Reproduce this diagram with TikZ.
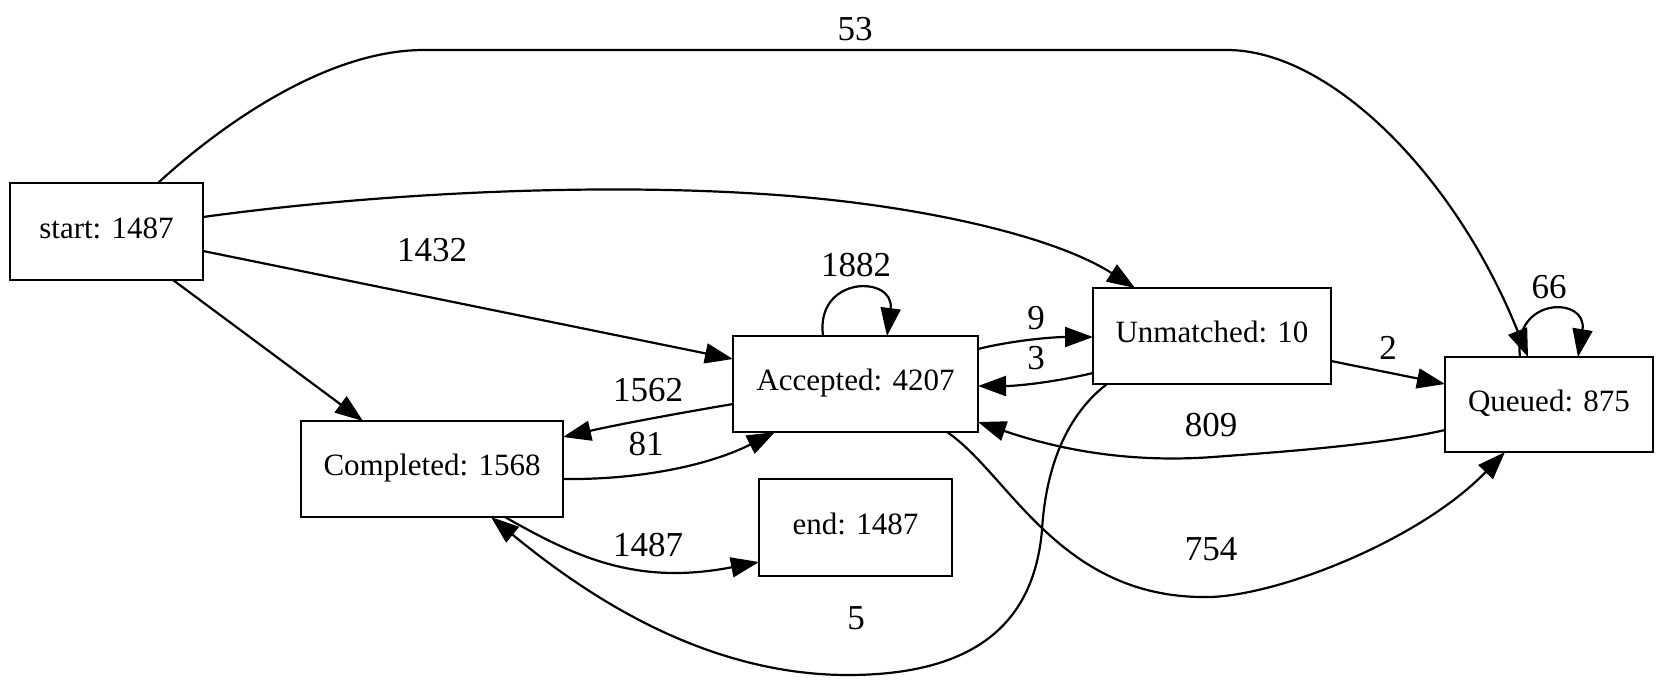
\documentclass[tikz,border=0pt]{standalone}
\usepackage{fontspec}
\setmainfont{Liberation Serif}
\usetikzlibrary{arrows.meta,calc}
\begin{document}
\begin{tikzpicture}[x=0.5pt,y=-0.5pt,
  box/.style={draw,line width=1.1pt,rectangle,inner sep=0pt,outer sep=0pt,font=\fontsize{15.5}{18}\selectfont,text height=0.66em,text depth=0pt},
  lbl/.style={inner sep=0pt,font=\fontsize{17.5}{20}\selectfont},
  conn/.style={line width=1.1pt,-{Triangle[length=14pt,width=10pt]}},
]
\useasboundingbox (0,0) rectangle (1664,686);
% nodes
\node[box,minimum width=96.5pt,minimum height=48.5pt] (start) at (106.5,231.5) {start: 1487};
\node[box,minimum width=131pt,minimum height=48pt] (Completed) at (432,469) {Completed: 1568};
\node[box,minimum width=122.5pt,minimum height=48pt] (Accepted) at (855.5,384) {Accepted: 4207};
\node[box,minimum width=96.5pt,minimum height=48.5pt] (end) at (855.5,527.5) {end: 1487};
\node[box,minimum width=119pt,minimum height=48pt] (Unmatched) at (1212,336) {Unmatched: 10};
\node[box,minimum width=104pt,minimum height=47.5pt] (Queued) at (1549,404.5) {Queued: 875};
% edges
\draw[conn] ($(start.east)+(0,-14.5)$) .. controls (400,190) and (650,180) .. (832,200) .. controls (950,213) and (1060,240) .. ($(Unmatched.north)+(-77,0)$);
\draw[conn] ($(start.east)+(0,19.5)$) -- ($(Accepted.west)+(0,-25)$);
\draw[conn] ($(start.south)+(66.5,0)$) -- ($(Completed.north)+(-69,0)$);
\draw[conn] ($(start.north)+(51.5,0)$) .. controls (210,135) and (320,50) .. (424,50) -- (1227,50) .. controls (1330,50) and (1455,175) .. ($(Queued.north)+(-21,0)$);
\draw[conn] ($(Accepted.north)+(-32.5,0)$) .. controls (815,275) and (895,275) .. ($(Accepted.north)+(31.5,0)$);
\draw[conn] ($(Queued.north)+(-29,0)$) .. controls (1512,296) and (1588,296) .. ($(Queued.north)+(29,0)$);
\draw[conn] ($(Accepted.east)+(0,-35)$) .. controls (1010,341) and (1050,337) .. ($(Unmatched.west)+(0,1)$);
\draw[conn] ($(Unmatched.west)+(0,37)$) .. controls (1060,381) and (1020,386) .. ($(Accepted.east)+(0,2)$);
\draw[conn] ($(Unmatched.east)+(0,25)$) -- ($(Queued.west)+(0,-20.5)$);
\draw[conn] ($(Accepted.west)+(0,20)$) .. controls (680,413) and (620,424) .. ($(Completed.east)+(0,-32)$);
\draw[conn] ($(Completed.east)+(0,10)$) .. controls (640,480) and (710,465) .. ($(Accepted.south)+(-80.5,0)$);
\draw[conn] ($(Completed.south)+(73,0)$) .. controls (580,560) and (640,585) .. ($(end.west)+(0,34.5)$);
\draw[conn] ($(Unmatched.south)+(-105,0)$) .. controls (1060,420) and (1045,480) .. (1042,530) .. controls (1035,610) and (990,675) .. (848,675) .. controls (700,675) and (580,590) .. ($(Completed.south)+(59,0)$);
\draw[conn] ($(Queued.west)+(0,25.5)$) .. controls (1380,445) and (1280,452) .. (1213,457) .. controls (1130,463) and (1060,450) .. ($(Accepted.east)+(0,38)$);
\draw[conn] ($(Accepted.south)+(91.5,0)$) .. controls (1010,475) and (1060,600) .. (1210,597) .. controls (1280,595) and (1420,540) .. ($(Queued.south)+(-44,0)$);
% labels
\node[lbl] (l53) at (855,29) {53};
\node[lbl] (l1432) at (432,250) {1432};
\node[lbl] (l1882) at (856,265) {1882};
\node[lbl] (l9) at (1036,318) {9};
\node[lbl] (l3) at (1036,358) {3};
\node[lbl] (l2) at (1388,348) {2};
\node[lbl] (l66) at (1549,287) {66};
\node[lbl] (l1562) at (648,390) {1562};
\node[lbl] (l81) at (646,444) {81};
\node[lbl] (l809) at (1211,425) {809};
\node[lbl] (l1487) at (648,545) {1487};
\node[lbl] (l754) at (1211,549) {754};
\node[lbl] (l5) at (856,618) {5};
\end{tikzpicture}
\end{document}
